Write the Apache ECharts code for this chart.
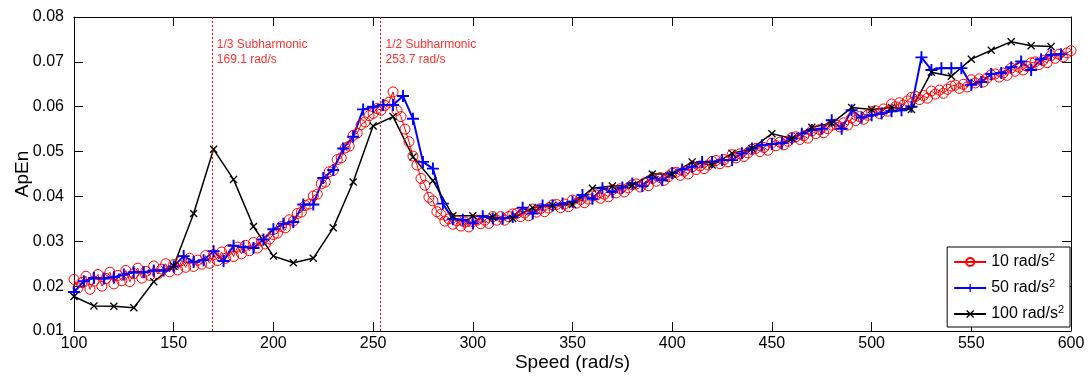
<!DOCTYPE html>
<html>
<head>
<meta charset="utf-8">
<script src="https://cdn.jsdelivr.net/npm/echarts@6/dist/echarts.min.js"></script>
<style>
  html, body { margin: 0; padding: 0; background: #fff; }
  #chart { width: 1088px; height: 379px; }
</style>
</head>
<body>
<div id="chart"></div>
<script>
// 10 rad/s^2 : sampled every 2 rad/s from 100 to 600
const red10Start = 100, red10Step = 2;
const red10 = [
  0.0215, 0.0196, 0.0208, 0.0222, 0.0193, 0.0211, 0.0226, 0.0200, 0.0217, 0.0231,
  0.0205, 0.0224, 0.0212, 0.0235, 0.0210, 0.0228, 0.0240, 0.0218, 0.0233, 0.0224,
  0.0245, 0.0227, 0.0238, 0.0250, 0.0232, 0.0248, 0.0236, 0.0257, 0.0242, 0.0262,
  0.0244, 0.0258, 0.0249, 0.0268, 0.0251, 0.0270, 0.0257, 0.0276, 0.0262, 0.0282,
  0.0266, 0.0287, 0.0272, 0.0291, 0.0279, 0.0297, 0.0285, 0.0302, 0.0294, 0.0305,
  0.0315,
  0.0318, 0.0333, 0.0330, 0.0348, 0.0345, 0.0362, 0.0365, 0.0380, 0.0383, 0.0401,
  0.0405, 0.0428, 0.0432, 0.0455, 0.0458, 0.0482, 0.0486, 0.0508, 0.0512, 0.0536,
  0.0541, 0.0560, 0.0566, 0.0580, 0.0585, 0.0596, 0.0592, 0.0603,
  0.0610, 0.0633, 0.0592, 0.0578, 0.0550, 0.0522, 0.0490, 0.0470, 0.0440, 0.0425,
  0.0398, 0.0390, 0.0366, 0.0360, 0.0345, 0.0350, 0.0338, 0.0346, 0.0334, 0.0343,
  0.0332, 0.0344,
  0.0347, 0.0339, 0.0347, 0.0340, 0.0355, 0.0347, 0.0355, 0.0347, 0.0355, 0.0361,
  0.0362, 0.0355, 0.0363, 0.0357, 0.0372, 0.0365, 0.0373, 0.0366, 0.0374, 0.0381,
  0.0382, 0.0375, 0.0383, 0.0377, 0.0392, 0.0385, 0.0393, 0.0386, 0.0394, 0.0401,
  0.0403, 0.0396, 0.0405, 0.0399, 0.0415, 0.0408, 0.0417, 0.0410, 0.0419, 0.0426,
  0.0428, 0.0421, 0.0430, 0.0424, 0.0440, 0.0434, 0.0442, 0.0436, 0.0444, 0.0452,
  0.0454, 0.0447, 0.0456, 0.0450, 0.0466, 0.0460, 0.0468, 0.0462, 0.0470, 0.0478,
  0.0480, 0.0473, 0.0482, 0.0477, 0.0493, 0.0486, 0.0495, 0.0489, 0.0497, 0.0505,
  0.0507, 0.0500, 0.0509, 0.0503, 0.0519, 0.0513, 0.0521, 0.0515, 0.0523, 0.0531,
  0.0533, 0.0527, 0.0535, 0.0530, 0.0546, 0.0540, 0.0549, 0.0542, 0.0551, 0.0559,
  0.0561, 0.0555, 0.0564, 0.0559, 0.0575, 0.0569, 0.0578, 0.0572, 0.0581, 0.0589,
  0.0591, 0.0585, 0.0595, 0.0590, 0.0606, 0.0600, 0.0609, 0.0604, 0.0613, 0.0621,
  0.0623, 0.0616, 0.0625, 0.0619, 0.0635, 0.0628, 0.0637, 0.0630, 0.0639, 0.0646,
  0.0648, 0.0641, 0.0650, 0.0644, 0.0660, 0.0653, 0.0662, 0.0655, 0.0664, 0.0671,
  0.0673, 0.0666, 0.0675, 0.0670, 0.0686, 0.0679, 0.0688, 0.0682, 0.0690, 0.0698,
  0.0700, 0.0694, 0.0703, 0.0698, 0.0714, 0.0708, 0.0717, 0.0711, 0.0720, 0.0725
];

// 50 rad/s^2 : every 5 rad/s from 100 to 595
const blue50Start = 100, blue50Step = 5;
const blue50 = [
  0.0187, 0.0211, 0.0218, 0.0217, 0.0220, 0.0226, 0.0231, 0.0231, 0.0235, 0.0235,
  0.0244, 0.0267, 0.0254, 0.0258, 0.0278, 0.0256, 0.0290, 0.0287, 0.0285, 0.0304,
  0.0327, 0.0339, 0.0343, 0.0382, 0.0382, 0.0441, 0.0459, 0.0507, 0.0533, 0.0594,
  0.0600, 0.0604, 0.0604, 0.0624, 0.0573, 0.0477, 0.0462, 0.0384, 0.0349, 0.0348,
  0.0340, 0.0356, 0.0351, 0.0351, 0.0354, 0.0375, 0.0362, 0.0380, 0.0380, 0.0384,
  0.0388, 0.0403, 0.0395, 0.0418, 0.0410, 0.0420, 0.0429, 0.0423, 0.0442, 0.0436,
  0.0452, 0.0460, 0.0466, 0.0477, 0.0477, 0.0481, 0.0481, 0.0496, 0.0507, 0.0514,
  0.0517, 0.0519, 0.0529, 0.0540, 0.0548, 0.0551, 0.0570, 0.0551, 0.0592, 0.0576,
  0.0581, 0.0585, 0.0590, 0.0592, 0.0600, 0.0710, 0.0682, 0.0686, 0.0686, 0.0686,
  0.0649, 0.0655, 0.0673, 0.0675, 0.0688, 0.0701, 0.0682, 0.0706, 0.0716, 0.0717
];

// 100 rad/s^2 : every 10 rad/s from 100 to 590
const black100Start = 100, black100Step = 10;
const black100 = [
  0.0177, 0.0156, 0.0155, 0.0152, 0.0210, 0.0245, 0.0362, 0.0505, 0.0438, 0.0333,
  0.0267, 0.0252, 0.0262, 0.0330, 0.0432, 0.0557, 0.0578, 0.0488, 0.0435, 0.0357,
  0.0357, 0.0354, 0.0351, 0.0375, 0.0380, 0.0382, 0.0418, 0.0423, 0.0425, 0.0450,
  0.0450, 0.0477, 0.0470, 0.0496, 0.0507, 0.0540, 0.0529, 0.0554, 0.0563, 0.0598,
  0.0594, 0.0598, 0.0594, 0.0677, 0.0668, 0.0706, 0.0726, 0.0745, 0.0736, 0.0734
];

const subharmonics = [169.1, 253.7];
const subLabels = ['1/3 Subharmonic\n169.1 rad/s', '1/2 Subharmonic\n253.7 rad/s'];
const seriesNames = ['10 rad/s2', '50 rad/s2', '100 rad/s2'];
const xTicks = { min: 100, max: 600, step: 50 };
const yTicks = { min: 0.01, max: 0.08, step: 0.01 };

function pairs(start, step, vals) {
  return vals.map((v, i) => [start + step * i, v]);
}

const plusPath = 'path://M4.2,0h1.6v4.2h4.2v1.6h-4.2v4.2h-1.6v-4.2h-4.2v-1.6h4.2z';
const crossPath = 'path://M0,1.2L1.2,0L5,3.8L8.8,0L10,1.2L6.2,5L10,8.8L8.8,10L5,6.2L1.2,10L0,8.8L3.8,5Z';
const fontFam = '"Liberation Sans", Arial, sans-serif';
const tickLen = 9;

const chart = echarts.init(document.getElementById('chart'));

const boxAxis = {
  axisLine: { show: true, lineStyle: { color: '#000', width: 1 } },
  axisTick: { show: true, inside: true, length: tickLen, lineStyle: { color: '#000' } },
  splitLine: { show: false }
};

const option = {
  animation: false,
  backgroundColor: '#fff',
  grid: { left: 74, right: 17, top: 17, bottom: 48, containLabel: false, outerBoundsMode: 'none' },
  xAxis: [Object.assign({
    type: 'value', min: xTicks.min, max: xTicks.max, interval: xTicks.step,
    name: 'Speed (rad/s)', nameLocation: 'middle', nameGap: 22, nameMoveOverlap: false,
    nameTextStyle: { fontFamily: fontFam, fontSize: 19, color: '#000' },
    axisLabel: { fontFamily: fontFam, fontSize: 16, color: '#000', margin: 5 }
  }, boxAxis), Object.assign({
    type: 'value', position: 'top', min: xTicks.min, max: xTicks.max, interval: xTicks.step,
    axisLabel: { show: false }
  }, boxAxis)],
  yAxis: [Object.assign({
    type: 'value', min: yTicks.min, max: yTicks.max, interval: yTicks.step,
    name: 'ApEn', nameLocation: 'middle', nameGap: 42, nameRotate: 90, nameMoveOverlap: false,
    nameTextStyle: { fontFamily: fontFam, fontSize: 19, color: '#000' },
    axisLabel: { fontFamily: fontFam, fontSize: 16, color: '#000', margin: 10,
      formatter: v => v.toFixed(2) }
  }, boxAxis), Object.assign({
    type: 'value', position: 'right', min: yTicks.min, max: yTicks.max, interval: yTicks.step,
    axisLabel: { show: false }
  }, boxAxis)],
  legend: {
    orient: 'vertical', right: 18, bottom: 52,
    backgroundColor: '#fff', borderColor: '#000', borderWidth: 1,
    padding: [5, 6, 5, 6], itemGap: 8, itemWidth: 32, itemHeight: 10,
    data: seriesNames,
    formatter: n => '{t|' + n.slice(0, -1) + '}{s|2}',
    textStyle: {
      rich: {
        t: { fontFamily: fontFam, fontSize: 16, color: '#000' },
        s: { fontFamily: fontFam, fontSize: 11, color: '#000', verticalAlign: 'top', padding: [0, 0, 9, 0] }
      }
    }
  },
  series: [{
    name: seriesNames[0], type: 'line', data: pairs(red10Start, red10Step, red10),
    symbol: 'circle', symbolSize: 10, showAllSymbol: true,
    lineStyle: { color: '#ff0000', width: 1 },
    itemStyle: { color: 'rgba(0,0,0,0)', borderColor: '#ff0000', borderWidth: 1 },
    markLine: {
      silent: true, symbol: 'none',
      label: { show: false },
      data: subharmonics.map(s => ({
        xAxis: s, lineStyle: { color: '#ff0000', type: [2, 2], width: 1 }
      }))
    }
  }, {
    name: seriesNames[1], type: 'line', data: pairs(blue50Start, blue50Step, blue50),
    symbol: plusPath, symbolSize: 12, showAllSymbol: true,
    lineStyle: { color: '#0000ff', width: 2 },
    itemStyle: { color: '#0000ff' }
  }, {
    name: seriesNames[2], type: 'line', data: pairs(black100Start, black100Step, black100),
    symbol: crossPath, symbolSize: 8, showAllSymbol: true,
    lineStyle: { color: '#000', width: 1.5 },
    itemStyle: { color: '#000' }
  }]
};

chart.setOption(option);

// annotation text next to each subharmonic line
const labels = subharmonics.map((s, i) => {
  const p = chart.convertToPixel({ xAxisIndex: 0, yAxisIndex: 0 }, [s, yTicks.max]);
  return {
    type: 'text', x: p[0] + 5, y: p[1] + 20,
    style: { text: subLabels[i], fill: '#ff3030', font: '12px ' + fontFam, lineHeight: 15 }
  };
});
chart.setOption({ graphic: labels });
</script>
</body>
</html>
